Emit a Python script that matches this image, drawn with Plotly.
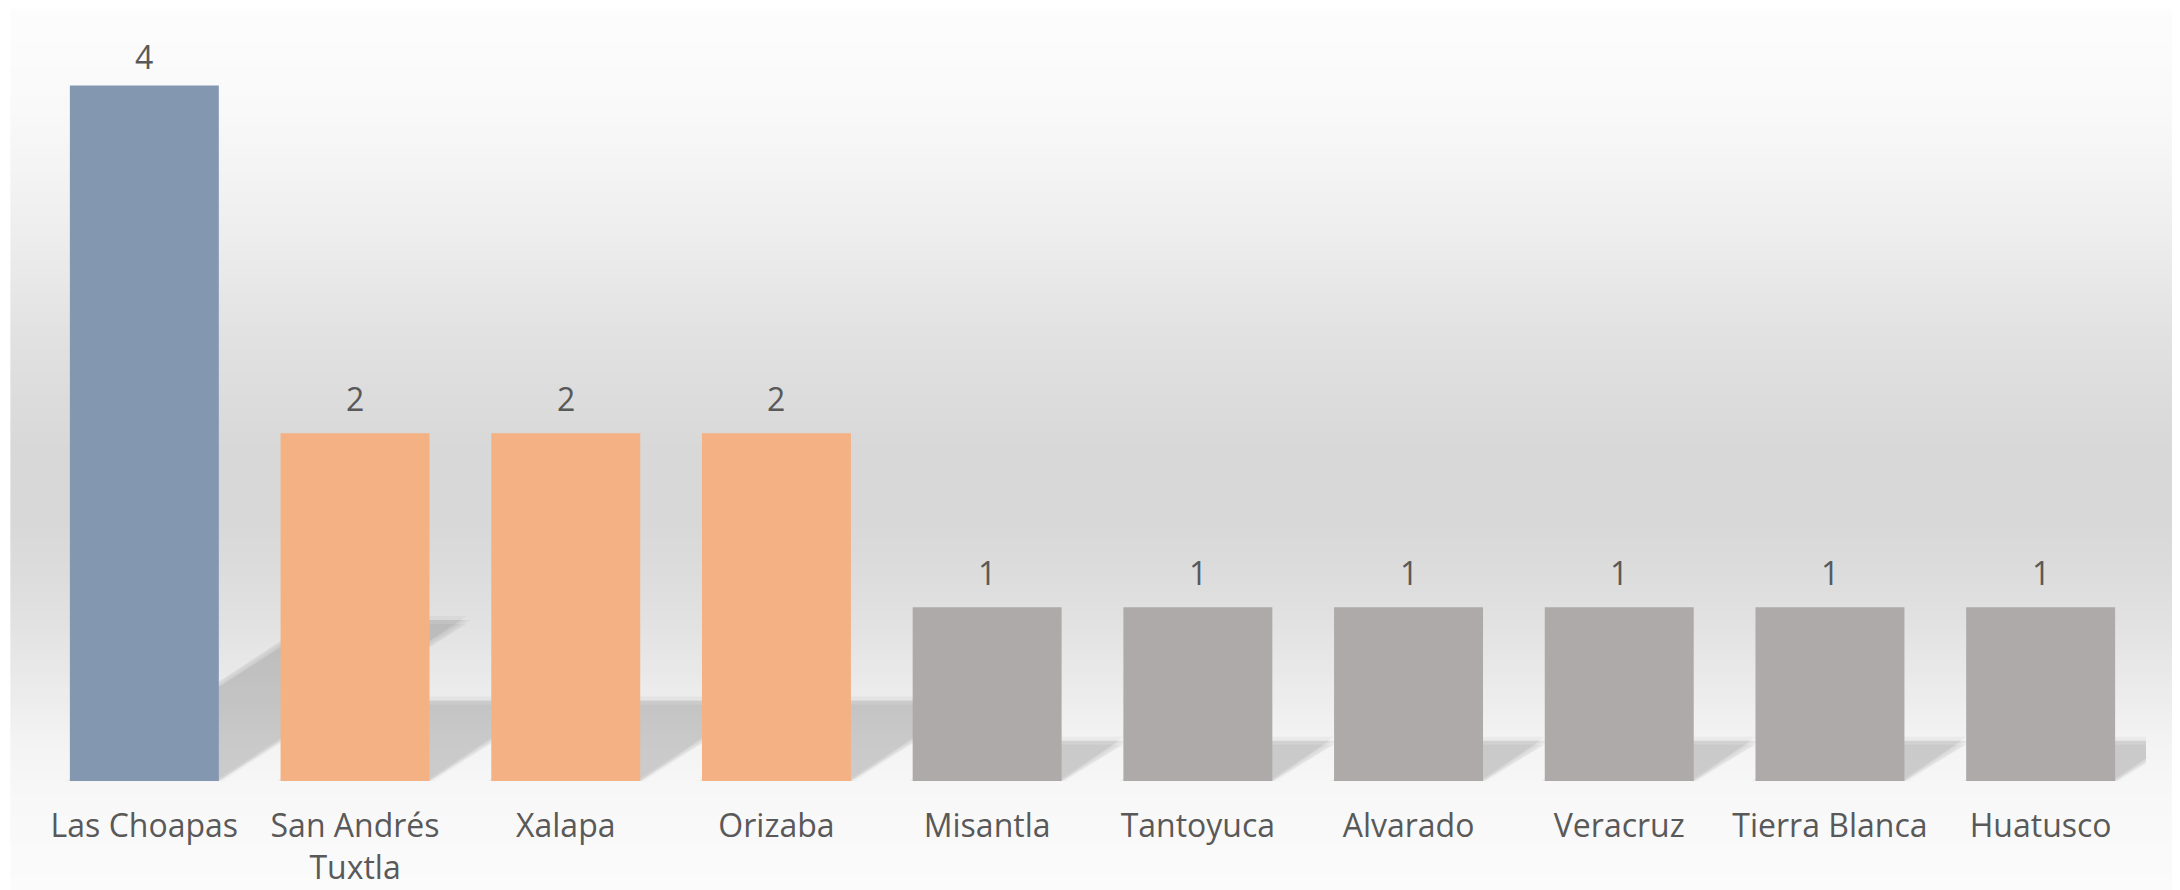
import plotly.graph_objects as go

# ---- data ----
categories = ["Las Choapas", "San Andrés<br>Tuxtla", "Xalapa", "Orizaba", "Misantla",
              "Tantoyuca", "Alvarado", "Veracruz", "Tierra Blanca", "Huatusco"]
values = [4, 2, 2, 2, 1, 1, 1, 1, 1, 1]
bar_colors = ["#8497B0", "#F4B183", "#F4B183", "#F4B183", "#AEAAAA",
              "#AEAAAA", "#AEAAAA", "#AEAAAA", "#AEAAAA", "#AEAAAA"]

# ---- layout geometry (pixels) ----
OFF = 8                  # default page body margin
W, H = 2180 - OFF, 890 - OFF
L, R = 38.6 - OFF, 2146.4 - OFF      # plot area left / right
T, B = 15.5 - OFF, 780.7 - OFF       # plot area top / bottom
YMAX = 4.4
BAR_W = 0.707
FONT = "Open Sans"
TXT = "#595959"
LABEL_GAP = 35           # px from bar top to label centre
LABEL_MIN_Y = 56 - OFF   # labels may not rise above this pixel row

xs = list(range(len(categories)))

fig = go.Figure()
fig.add_trace(go.Bar(
    x=xs, y=values, width=BAR_W,
    marker=dict(color=bar_colors, line=dict(width=0)),
    hoverinfo="skip",
))

px_per_x = (R - L) / len(categories)
px_per_y = (B - T) / YMAX

# data labels
annotations = []
for i, v in zip(xs, values):
    top_px = B - v * px_per_y
    shift = min(LABEL_GAP, top_px - LABEL_MIN_Y)
    annotations.append(dict(
        x=i, y=v, xref="x", yref="y", text=str(v), showarrow=False,
        yanchor="middle", xanchor="center", yshift=shift,
        font=dict(family=FONT, size=32, color=TXT),
    ))

shapes = []

def px2paper_x(px):
    return (px - L) / (R - L)

def px2paper_y(py):
    return (B - py) / (B - T)

# background gradient (stops given in page pixels)
stops = [(0, 253), (110, 249), (230, 238), (340, 225), (450, 216), (520, 216),
         (570, 220), (625, 226), (680, 234), (740, 243), (800, 248), (890, 251)]

def gray_at(py):
    for (y0, g0), (y1, g1) in zip(stops[:-1], stops[1:]):
        if y0 <= py <= y1:
            t = (py - y0) / (y1 - y0)
            return g0 + (g1 - g0) * t
    return stops[-1][1]

STEP = 3
y = OFF
while y < 890:
    g = int(round(gray_at(y + STEP / 2)))
    shapes.append(dict(
        type="rect", xref="paper", yref="paper", layer="below",
        x0=px2paper_x(10 - OFF), x1=px2paper_x(2176 - OFF),
        y0=px2paper_y(y - OFF), y1=px2paper_y(min(y + STEP + 0.6, 890) - OFF),
        fillcolor=f"rgb({g},{g},{g})", line=dict(width=0),
    ))
    y += STEP

# perspective shadows derived from bar geometry
A_SHIFT = 0.294   # horizontal shift per value unit (x units)
B_RISE = 0.2315   # vertical rise per value unit (y units)
offsets = [(0, 0), (-4, 0), (4, 0), (0, -4), (0, 4)]
for i, v in zip(xs, values):
    for ox, oy in offsets:
        dx = ox / px_per_x
        dy = oy / px_per_y
        x0 = i - BAR_W / 2 + dx
        x1 = i + BAR_W / 2 + dx
        top = B_RISE * v + dy
        sh = A_SHIFT * v
        path = (f"M {x0},{0} L {x1},{0} L {x1 + sh},{top} "
                f"L {x0 + sh},{top} Z")
        shapes.append(dict(
            type="path", xref="x", yref="y", layer="below", path=path,
            fillcolor="rgba(0,0,0,0.036)", line=dict(width=0),
        ))

fig.update_layout(
    width=W, height=H,
    margin=dict(l=L, r=W - R, t=T, b=H - B, pad=0, autoexpand=False),
    paper_bgcolor="white",
    plot_bgcolor="rgba(0,0,0,0)",
    showlegend=False,
    bargap=1 - BAR_W,
    shapes=shapes,
    annotations=annotations,
    xaxis=dict(
        range=[-0.5, len(categories) - 0.5],
        tickmode="array", tickvals=xs, ticktext=categories,
        showgrid=False, zeroline=False, showline=False, ticks="",
        tickfont=dict(family=FONT, size=32, color=TXT),
        ticklabelstandoff=23, fixedrange=True, automargin=False,
    ),
    yaxis=dict(
        range=[0, YMAX], showgrid=False, zeroline=False, showline=False,
        showticklabels=False, ticks="", fixedrange=True, automargin=False,
    ),
)

fig.write_html("out.html")
